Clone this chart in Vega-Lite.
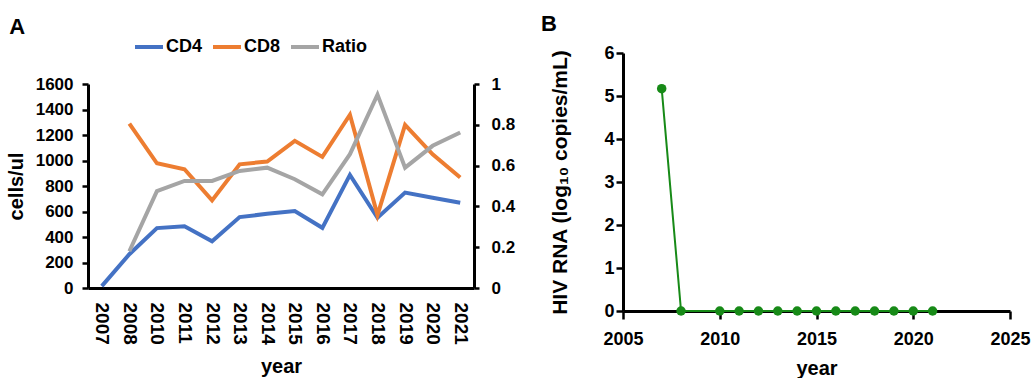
{
  "$schema": "https://vega.github.io/schema/vega-lite/v6.json",
  "padding": {"left": 6, "top": 13, "right": 2, "bottom": 0},
  "spacing": 25,
  "config": {
    "font": "Liberation Sans",
    "view": {"stroke": null},
    "axis": {"grid": false, "domain": true, "domainColor": "#000000", "domainOpacity": 1, "tickColor": "#000000", "tickOpacity": 1, "labelColor": "black", "titleColor": "black", "labelFontWeight": "bold", "titleFontWeight": "bold", "domainWidth": 3, "tickWidth": 2.5}
  },
  "datasets": {
    "cells": [
      {"year": 2007, "series": "CD4", "value": 15},
      {"year": 2008, "series": "CD4", "value": 265},
      {"year": 2010, "series": "CD4", "value": 470},
      {"year": 2011, "series": "CD4", "value": 485},
      {"year": 2012, "series": "CD4", "value": 367},
      {"year": 2013, "series": "CD4", "value": 556},
      {"year": 2014, "series": "CD4", "value": 582},
      {"year": 2015, "series": "CD4", "value": 603},
      {"year": 2016, "series": "CD4", "value": 472},
      {"year": 2017, "series": "CD4", "value": 887},
      {"year": 2018, "series": "CD4", "value": 551},
      {"year": 2019, "series": "CD4", "value": 748},
      {"year": 2020, "series": "CD4", "value": 708},
      {"year": 2021, "series": "CD4", "value": 669},
      {"year": 2008, "series": "CD8", "value": 1290},
      {"year": 2010, "series": "CD8", "value": 978},
      {"year": 2011, "series": "CD8", "value": 931},
      {"year": 2012, "series": "CD8", "value": 687},
      {"year": 2013, "series": "CD8", "value": 970},
      {"year": 2014, "series": "CD8", "value": 992},
      {"year": 2015, "series": "CD8", "value": 1154},
      {"year": 2016, "series": "CD8", "value": 1028},
      {"year": 2017, "series": "CD8", "value": 1359},
      {"year": 2018, "series": "CD8", "value": 572},
      {"year": 2019, "series": "CD8", "value": 1280},
      {"year": 2020, "series": "CD8", "value": 1049},
      {"year": 2021, "series": "CD8", "value": 866},
      {"year": 2008, "series": "Ratio", "value": 0.18},
      {"year": 2010, "series": "Ratio", "value": 0.475},
      {"year": 2011, "series": "Ratio", "value": 0.525},
      {"year": 2012, "series": "Ratio", "value": 0.525},
      {"year": 2013, "series": "Ratio", "value": 0.574},
      {"year": 2014, "series": "Ratio", "value": 0.59},
      {"year": 2015, "series": "Ratio", "value": 0.533},
      {"year": 2016, "series": "Ratio", "value": 0.459},
      {"year": 2017, "series": "Ratio", "value": 0.656},
      {"year": 2018, "series": "Ratio", "value": 0.948},
      {"year": 2019, "series": "Ratio", "value": 0.59},
      {"year": 2020, "series": "Ratio", "value": 0.697},
      {"year": 2021, "series": "Ratio", "value": 0.762}
    ],
    "rna": [
      {"year": 2007, "log10": 5.17},
      {"year": 2008, "log10": 0},
      {"year": 2010, "log10": 0},
      {"year": 2011, "log10": 0},
      {"year": 2012, "log10": 0},
      {"year": 2013, "log10": 0},
      {"year": 2014, "log10": 0},
      {"year": 2015, "log10": 0},
      {"year": 2016, "log10": 0},
      {"year": 2017, "log10": 0},
      {"year": 2018, "log10": 0},
      {"year": 2019, "log10": 0},
      {"year": 2020, "log10": 0},
      {"year": 2021, "log10": 0}
    ]
  },
  "hconcat": [
    {
      "title": {"text": "A", "anchor": "start", "frame": "bounds", "fontSize": 22, "fontWeight": "bold", "offset": 14, "dx": 3},
      "width": 386,
      "height": 235,
      "data": {"name": "cells"},
      "encoding": {
        "x": {"field": "year", "type": "ordinal", "scale": {"padding": 0.5},
              "axis": {"title": "year", "labelAngle": 90, "labelFontSize": 19, "titleFontSize": 20, "ticks": false, "domain": true, "domainColor": "#000000", "domainWidth": 3, "labelPadding": 14, "titlePadding": 12}},
        "color": {"field": "series", "type": "nominal",
                  "scale": {"domain": ["CD4", "CD8", "Ratio"], "range": ["#4472C4", "#ED7D31", "#A5A5A5"]},
                  "legend": {"title": null, "orient": "none", "legendX": 45, "legendY": -22, "direction": "horizontal",
                             "symbolType": "stroke", "symbolStrokeWidth": 4, "symbolSize": 784, "labelFontSize": 18, "labelFontWeight": "bold", "labelColor": "black", "labelOffset": 1, "columnPadding": 2}}
      },
      "layer": [
        {
          "transform": [{"filter": "datum.series !== 'Ratio'"}],
          "mark": {"type": "line", "strokeWidth": 4},
          "encoding": {
            "y": {"field": "value", "type": "quantitative", "scale": {"domain": [0, 1600], "range": [235, 31]},
                  "axis": {"title": "cells/ul", "values": [0, 200, 400, 600, 800, 1000, 1200, 1400, 1600], "format": "d", "domain": true, "ticks": true, "domainColor": "#000000", "tickColor": "#000000", "domainWidth": 3, "labelFontSize": 17, "titleFontSize": 20, "tickSize": 6, "labelPadding": 9, "titlePadding": 9}}
          }
        },
        {
          "transform": [{"filter": "datum.series === 'Ratio'"}],
          "mark": {"type": "line", "strokeWidth": 4},
          "encoding": {
            "y": {"field": "value", "type": "quantitative", "scale": {"domain": [0, 1], "range": [235, 31]},
                  "axis": {"title": null, "orient": "right", "values": [0, 0.2, 0.4, 0.6, 0.8, 1], "format": "~g", "domain": true, "ticks": true, "domainColor": "#000000", "tickColor": "#000000", "domainWidth": 3, "labelFontSize": 17, "tickSize": 5, "labelPadding": 12}}
          }
        }
      ],
      "resolve": {"scale": {"y": "independent"}}
    },
    {
      "title": {"text": "B", "anchor": "start", "frame": "bounds", "fontSize": 22, "fontWeight": "bold", "offset": 8, "dx": -9},
      "width": 387,
      "height": 258,
      "data": {"name": "rna"},
      "encoding": {
        "x": {"field": "year", "type": "quantitative", "scale": {"domain": [2005, 2025], "nice": false, "zero": false},
              "axis": {"title": "year", "values": [2005, 2010, 2015, 2020, 2025], "format": "d", "labelFlush": false, "domain": true, "ticks": true, "domainColor": "#000000", "tickColor": "#000000", "domainWidth": 3, "labelFontSize": 18, "titleFontSize": 20, "tickSize": 8, "labelPadding": 11, "titlePadding": 10}},
        "y": {"field": "log10", "type": "quantitative", "scale": {"domain": [0, 6], "nice": false},
              "axis": {"title": "HIV RNA (log₁₀ copies/mL)", "values": [0, 1, 2, 3, 4, 5, 6], "labelFlush": false, "domain": true, "ticks": true, "domainColor": "#000000", "tickColor": "#000000", "domainWidth": 3, "labelFontSize": 18, "titleFontSize": 21, "tickSize": 7, "labelPadding": 2, "titlePadding": 33}}
      },
      "layer": [
        {"mark": {"type": "line", "color": "#178a17", "strokeWidth": 2}},
        {"mark": {"type": "point", "filled": true, "color": "#178a17", "size": 90, "opacity": 1}}
      ]
    }
  ]
}
